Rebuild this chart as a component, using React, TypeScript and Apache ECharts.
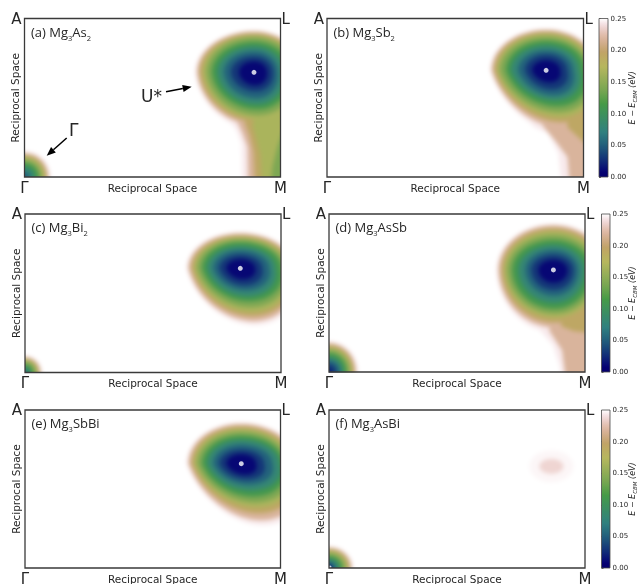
import React, { useEffect, useRef } from "react";
import * as echarts from "echarts";

// Contour levels (eV), outermost first; each pocket lists its extents (in map samples) at these levels.
const LEVELS = [0.25, 0.23, 0.205, 0.18, 0.155, 0.125, 0.095, 0.065, 0.04, 0.02];
const BAND_VALUES = [0.244, 0.218, 0.192, 0.167, 0.14, 0.11, 0.08, 0.052, 0.03, 0.01];
const FAINT_BANDS = [0.2475, 0.236];

// gist_earth colour map knots
const CM_R = [[0, 0], [0.2824, 0.1882], [0.4588, 0.2714], [0.549, 0.4719], [0.698, 0.7176], [0.7882, 0.7553], [1, 1]];
const CM_G = [[0, 0], [0.0275, 0], [0.1098, 0.1893], [0.1647, 0.3035], [0.2078, 0.3841], [0.2824, 0.502], [0.5216, 0.6397], [0.698, 0.7171], [0.7882, 0.6392], [0.8157, 0.6549], [0.8667, 0.6991], [0.898, 0.743], [0.9412, 0.8275], [0.9647, 0.8816], [1, 1]];
const CM_B = [[0, 0], [0.0039, 0.1684], [0.0078, 0.2212], [0.0275, 0.4329], [0.0314, 0.4549], [0.2824, 0.5004], [0.4667, 0.2748], [0.5451, 0.3205], [0.7843, 0.3961], [0.8941, 0.6651], [1, 1]];

// U* pockets: centre, and extents to left / right / up / down per level
const A_U = { c: [229.5, 105], skew: 0.1,
  left: [59, 57, 54.5, 51, 47.5, 42, 36.5, 30, 23, 15],
  right: [51, 49, 47, 44, 41, 36, 30, 24, 19, 13],
  up: [42, 41, 39, 37, 35, 30.5, 26, 21, 16, 11],
  down: [58, 54, 50, 47, 43, 37, 32, 26, 19, 13] };
const B_U = { c: [218.7, 107], skew: 0.3,
  left: [56, 54.5, 52, 49, 46, 40, 35, 28, 21, 14],
  right: [53, 51, 49, 46, 43, 39, 33, 27, 21, 14],
  up: [42, 40.5, 38.5, 36.5, 33.5, 29.5, 25, 20, 15.5, 10],
  down: [64, 58, 52, 47, 42, 36, 30, 25, 19, 12] };
const C_U = { c: [215.3, 104.5], skew: 0.25,
  left: [54, 52, 49, 46, 43, 38, 33, 27, 21, 14],
  right: [55, 53, 51, 48, 45, 41, 35, 29, 22, 15],
  up: [36.5, 35, 33, 31, 29, 26, 22, 18, 13.5, 9],
  down: [57, 53, 48, 44, 39, 33, 28, 22, 17, 11] };
const D_U = { c: [224.4, 102.7], skew: 0.03,
  left: [57, 55, 52, 49, 46, 41, 35, 28, 22, 15],
  right: [54, 52, 49, 46, 42, 37, 31, 25, 20, 14],
  up: [46.5, 45, 42, 39, 35, 30, 25, 20, 15, 10],
  down: [63, 58, 53, 48, 44, 39, 33, 26, 20, 13] };
const E_U = { c: [216.7, 105], skew: 0.35,
  left: [55, 53, 50, 47, 44, 39, 34, 28, 22, 15],
  right: [57, 55, 52, 49, 46, 42, 38, 31, 23, 15],
  up: [41.5, 40, 37.5, 35, 32, 28, 24, 19, 14, 9.5],
  down: [62, 57, 50, 44, 39, 33, 27, 21, 16, 11] };
const F_U = { c: [222.4, 102.3], skew: 0, bands: FAINT_BANDS,
  left: [22, 12], right: [22, 12], up: [16, 7.5], down: [16, 7.5] };

// Gamma pockets in the corner: radius along x and y per level
const A_G = { c: [0, 0], x: [26, 24, 22, 20, 17, 14, 10, 5, 0, 0], y: [26, 24, 22, 20, 17, 14, 10, 5, 0, 0] };
const C_G = { c: [0, 0], x: [17, 15.5, 14, 12.5, 10.5, 8, 5, 2, 0, 0], y: [17, 15.5, 14, 12.5, 10.5, 8, 5, 2, 0, 0] };
const D_G = { c: [0, 0], x: [29, 27, 25, 23, 20.5, 17.5, 14, 11, 7, 2], y: [31, 29, 27, 24.5, 22, 19, 15, 11.5, 7.5, 2] };
const F_G = { c: [0, 0], x: [24, 22.5, 20.5, 18.5, 16, 13, 10, 6.5, 4, 1.5], y: [22, 20.5, 19, 17, 14.5, 12, 9, 6, 3.5, 1.5] };

// Tails running down to the M corner: outline per level index
const A_TAIL = [
  [[220, 80], [205, 56], [212, 47], [217, 33], [218, -15], [275, -15], [275, 80]],
  [[225, 80], [213, 55], [218, 44], [223, 30], [224, -15], [275, -15], [275, 80]],
  [[230, 80], [220, 55], [225, 42], [229, 25], [231, -15], [275, -15], [275, 80]],
  [[235, 80], [228, 52], [232, 38], [236, 22], [238, -15], [275, -15], [275, 80]],
  [[258, 45], [253, 30], [248, 10], [246, -15], [275, -15], [275, 45]],
];
const B_TAIL = [
  [[225, 85], [200, 57], [207, 50], [220, 44], [231, 24], [235, -15], [275, -15], [275, 85]],
  [[235, 85], [215, 52], [228, 36], [240, 20], [243, -15], [275, -15], [275, 85]],
  [[240, 80], [240, 50], [256, 35], [275, 30], [275, 80]],
];
const D_TAIL = [
  [[225, 85], [210, 43], [224, 27], [231, 5], [232, -15], [275, -15], [275, 85]],
  [[232, 85], [220, 42], [233, 22], [238, -15], [275, -15], [275, 85]],
  [[238, 85], [232, 46], [245, 41], [275, 38], [275, 85]],
];

const CBM_POINTS_A = [[229.5, 105]];
const CBM_POINTS_B = [[218.7, 107]];
const CBM_POINTS_C = [[215.3, 104.5]];
const CBM_POINTS_D = [[224.4, 102.7]];
const CBM_POINTS_E = [[216.7, 105]];
const CBM_POINTS_F = [[1, 1]];

const PANELS = [
  { id: "a", rest: ["As", "2"], box: [24.5, 18.5, 256, 158.5], pocket: A_U, gamma: A_G, tail: A_TAIL, dots: CBM_POINTS_A, dot: 5 },
  { id: "b", rest: ["Sb", "2"], box: [327, 18.5, 256.5, 158.5], pocket: B_U, gamma: null, tail: B_TAIL, dots: CBM_POINTS_B, dot: 5 },
  { id: "c", rest: ["Bi", "2"], box: [25, 214, 256, 158.5], pocket: C_U, gamma: C_G, tail: null, dots: CBM_POINTS_C, dot: 5 },
  { id: "d", rest: ["AsSb", ""], box: [329, 214, 256, 158], pocket: D_U, gamma: D_G, tail: D_TAIL, dots: CBM_POINTS_D, dot: 5 },
  { id: "e", rest: ["SbBi", ""], box: [25, 410, 255.5, 158], pocket: E_U, gamma: null, tail: null, dots: CBM_POINTS_E, dot: 5 },
  { id: "f", rest: ["AsBi", ""], box: [329, 410, 256, 158], pocket: F_U, gamma: F_G, tail: null, dots: CBM_POINTS_F, dot: 3 },
];
const BARS = [[599, 18.5, 9, 158.5], [601.5, 214, 8.5, 158], [601.5, 410, 8.5, 158]];
const BAR_NAME_GAPS = [19, 16.5, 16.5];
const W = 637;
const H = 584;

function knot(tbl: number[][], t: number) {
  for (let i = 1; i < tbl.length; i++) {
    if (t <= tbl[i][0]) {
      const [a, va] = tbl[i - 1];
      const [b, vb] = tbl[i];
      return va + ((vb - va) * (t - a)) / (b - a);
    }
  }
  return 1;
}
function cmap(v: number) {
  const t = Math.max(0.028, Math.min(1, v / 0.25));
  const h = (x: number) => Math.round(x * 255);
  return `rgb(${h(knot(CM_R, t))},${h(knot(CM_G, t))},${h(knot(CM_B, t))})`;
}

function egg(c: number[], l: number, r: number, u: number, d: number, skew: number) {
  const pts: number[][] = [];
  for (let i = 0; i < 72; i++) {
    const a = (i / 72) * Math.PI * 2;
    const cs = Math.cos(a);
    const sn = Math.sin(a);
    const dy = sn > 0 ? u * sn : d * sn;
    const x = c[0] + (cs > 0 ? r : l) * cs + (dy < 0 ? -skew * dy : 0);
    pts.push([x, c[1] + dy]);
  }
  return pts;
}

function layersOf(p: any) {
  const out: { fill: string; pts: number[][] }[] = [];
  LEVELS.forEach((_, k) => {
    const u = p.pocket;
    const bands = u.bands || BAND_VALUES;
    if (u.left[k] > 0) out.push({ fill: cmap(bands[k]), pts: egg(u.c, u.left[k], u.right[k], u.up[k], u.down[k], u.skew) });
    if (p.tail && p.tail[k]) out.push({ fill: cmap(BAND_VALUES[k]), pts: p.tail[k] });
    const g = p.gamma;
    if (g && g.x[k] > 0) out.push({ fill: cmap(BAND_VALUES[k]), pts: egg(g.c, g.x[k], g.x[k], g.y[k], g.y[k], 0) });
  });
  return out;
}

const INK = "#262626";
const SANS = "DejaVu Sans";

// the energy maps alone; this chart sits under a soft blur and the frame chart masks its overflow
function buildHeatOption() {
  const grid: any[] = [];
  const xAxis: any[] = [];
  const yAxis: any[] = [];
  const series: any[] = [];
  PANELS.forEach((p, i) => {
    const [left, top, width, height] = p.box;
    grid.push({ left, top, width, height, show: false, outerBoundsMode: "none" });
    xAxis.push({ gridIndex: i, type: "value", min: 0, max: 256, show: false });
    yAxis.push({ gridIndex: i, type: "value", min: 0, max: 159, show: false });
    const layers = layersOf(p);
    series.push({
      type: "custom", xAxisIndex: i, yAxisIndex: i, clip: false, silent: true,
      data: layers.map((_, k) => [k]),
      renderItem: (params: any, api: any) => {
        const l = layers[params.dataIndex];
        return { type: "polygon", shape: { points: l.pts.map((q) => api.coord(q)) }, style: { fill: l.fill } };
      },
    });
  });
  return { animation: false, backgroundColor: "#fff", grid, xAxis, yAxis, series };
}

function buildFrameOption() {
  const grid: any[] = [];
  const xAxis: any[] = [];
  const yAxis: any[] = [];
  const series: any[] = [];
  const graphic: any[] = [];

  // white masks around the six map boxes
  const mask = (x: number, y: number, width: number, height: number) =>
    graphic.push({ type: "rect", z: 1, silent: true, shape: { x, y, width, height }, style: { fill: "#fff" } });
  let prevBottom = 0;
  for (let r = 0; r < 3; r++) {
    const a = PANELS[2 * r].box;
    const b = PANELS[2 * r + 1].box;
    mask(0, prevBottom, W, a[1] - prevBottom);
    mask(0, a[1] - 1, a[0], a[3] + 2);
    mask(a[0] + a[2], a[1] - 1, b[0] - a[0] - a[2], a[3] + 2);
    mask(b[0] + b[2], a[1] - 1, W - b[0] - b[2], a[3] + 2);
    prevBottom = a[1] + a[3];
  }
  mask(0, prevBottom, W, H - prevBottom);

  PANELS.forEach((p, i) => {
    const [left, top, width, height] = p.box;
    grid.push({ left, top, width, height, show: false, outerBoundsMode: "none" });
    xAxis.push({
      gridIndex: i, type: "value", min: 0, max: 256, z: 5,
      name: "Reciprocal Space", nameLocation: "middle", nameGap: 5, nameMoveOverlap: false,
      nameTextStyle: { fontFamily: SANS, fontSize: 10.5, color: INK, verticalAlign: "top" },
      axisLine: { show: false }, axisTick: { show: false }, splitLine: { show: false },
      axisLabel: { customValues: [0, 256], formatter: (v: number) => (v === 0 ? "Γ" : "M"), fontFamily: SANS, fontSize: 15, color: INK, margin: 3, alignMinLabel: "center", alignMaxLabel: "center", showMinLabel: true, showMaxLabel: true },
    });
    yAxis.push({
      gridIndex: i, type: "value", min: 0, max: 159, z: 5,
      name: "Reciprocal Space", nameLocation: "middle", nameGap: 4, nameMoveOverlap: false,
      nameTextStyle: { fontFamily: SANS, fontSize: 10.5, color: INK },
      axisLine: { show: false }, axisTick: { show: false }, splitLine: { show: false },
      axisLabel: { customValues: [159], formatter: () => "A", fontFamily: SANS, fontSize: 15, color: INK, margin: 3, showMinLabel: true, showMaxLabel: true },
    });
    series.push({
      type: "scatter", xAxisIndex: i, yAxisIndex: i, data: p.dots, symbolSize: p.dot, silent: true,
      itemStyle: { color: "#fff" }, z: 6, clip: false,
    });
    graphic.push({
      type: "rect", silent: true, z: 20,
      shape: { x: left, y: top, width, height },
      style: { fill: "none", stroke: "#3a3a3a", lineWidth: 1.3 },
    });
    graphic.push({
      type: "text", z: 21, x: left + width + 1, y: top - 7.5,
      style: { text: "L", font: `15px ${SANS}`, fill: INK },
    });
    const sub = (s: string) => (s ? `{s|${s}}` : "");
    graphic.push({
      type: "text", z: 21, x: left + 6.5, y: top + 3,
      style: {
        text: `{n|(${p.id}) Mg}{s|3}{n|${p.rest[0]}}${sub(p.rest[1])}`,
        rich: {
          n: { font: "13px 'Open Sans'", fill: INK, lineHeight: 20 },
          s: { font: "7.5px 'Open Sans'", fill: INK, lineHeight: 7, verticalAlign: "bottom" },
        },
      },
    });
  });

  BARS.forEach((b, j) => {
    const i = PANELS.length + j;
    grid.push({ left: b[0], top: b[1], width: b[2], height: b[3], show: false, outerBoundsMode: "none" });
    xAxis.push({ gridIndex: i, type: "value", min: 0, max: 1, show: false });
    yAxis.push({
      gridIndex: i, type: "value", position: "right", min: 0, max: 0.25, interval: 0.05, z: 5,
      name: "{e|E − E}{c|CBM}{e| (eV)}", nameLocation: "middle", nameGap: BAR_NAME_GAPS[j], nameRotate: 90, nameMoveOverlap: false,
      nameTextStyle: {
        color: INK,
        rich: {
          e: { fontFamily: SANS, fontSize: 8, fontStyle: "italic", color: INK, lineHeight: 11 },
          c: { fontFamily: SANS, fontSize: 5.5, fontStyle: "italic", color: INK, lineHeight: 6, verticalAlign: "bottom" },
        },
      },
      axisLine: { show: false }, splitLine: { show: false },
      axisTick: { show: true, length: 2, lineStyle: { color: INK, width: 0.7 } },
      axisLabel: { fontFamily: SANS, fontSize: 7, color: INK, margin: 2.5, formatter: (v: number) => v.toFixed(2), showMinLabel: true, showMaxLabel: true },
    });
    const stops = [] as { offset: number; color: string }[];
    for (let k = 0; k <= 100; k++) stops.push({ offset: k / 100, color: cmap((k / 100) * 0.25) });
    series.push({
      type: "custom", xAxisIndex: i, yAxisIndex: i, silent: true, clip: false, z: 6,
      data: [[0, 0]],
      renderItem: (_: any, api: any) => {
        const p0 = api.coord([0, 0]);
        const p1 = api.coord([1, 0.25]);
        return {
          type: "rect",
          shape: { x: p0[0], y: p1[1], width: p1[0] - p0[0], height: p0[1] - p1[1] },
          style: {
            fill: new echarts.graphic.LinearGradient(0, 1, 0, 0, stops),
            stroke: "#4a4a4a", lineWidth: 0.8,
          },
        };
      },
    });
  });

  // annotations of panel (a)
  const arrow = (x1: number, y1: number, x2: number, y2: number) => {
    const a = Math.atan2(y2 - y1, x2 - x1);
    const L = 9;
    const W2 = 3.6;
    const bx = x2 - L * Math.cos(a);
    const by = y2 - L * Math.sin(a);
    graphic.push({ type: "line", z: 22, shape: { x1, y1, x2: bx, y2: by }, style: { stroke: "#000", lineWidth: 1.5 } });
    graphic.push({
      type: "polygon", z: 22,
      shape: { points: [[x2, y2], [bx - W2 * Math.sin(a), by + W2 * Math.cos(a)], [bx + W2 * Math.sin(a), by - W2 * Math.cos(a)]] },
      style: { fill: "#000" },
    });
  };
  arrow(66.7, 138, 46.7, 155.7);
  arrow(166, 91.7, 191.7, 86.7);
  graphic.push({ type: "text", z: 22, x: 69, y: 121, style: { text: "Γ", font: `17px ${SANS}`, fill: INK } });
  graphic.push({ type: "text", z: 22, x: 141, y: 87, style: { text: "U*", font: `17px ${SANS}`, fill: INK } });

  return { animation: false, grid, xAxis, yAxis, series, graphic };
}

const layerStyle: React.CSSProperties = { position: "fixed", left: 0, top: 0, width: W, height: H };

export default function App() {
  const heatRef = useRef<HTMLDivElement>(null);
  const frameRef = useRef<HTMLDivElement>(null);
  useEffect(() => {
    const heat = echarts.init(heatRef.current!, undefined, { renderer: "svg" });
    heat.setOption(buildHeatOption() as any);
    const frame = echarts.init(frameRef.current!, undefined, { renderer: "svg" });
    frame.setOption(buildFrameOption() as any);
    return () => {
      heat.dispose();
      frame.dispose();
    };
  }, []);
  return (
    <>
      <div ref={heatRef} style={{ ...layerStyle, filter: "blur(1.9px)" }} />
      <div ref={frameRef} style={{ ...layerStyle, filter: "blur(0.35px)" }} />
    </>
  );
}
